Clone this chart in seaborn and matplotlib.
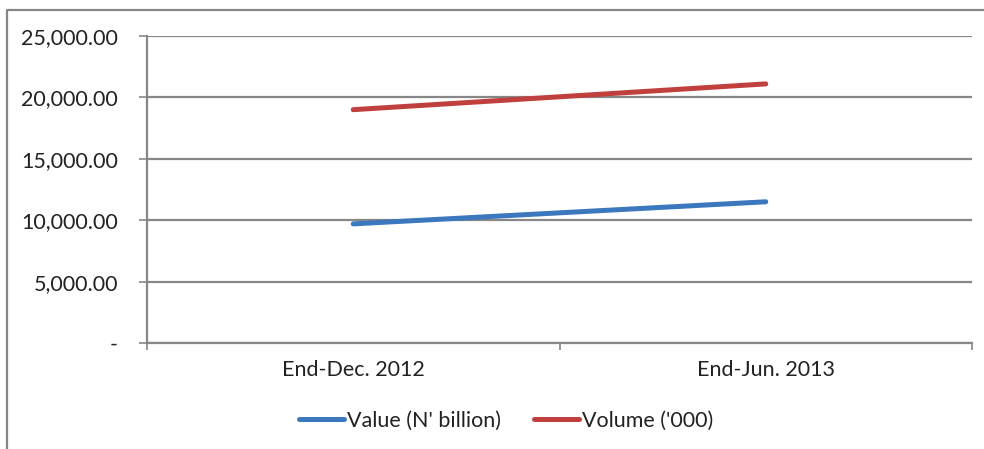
import numpy as np
import pandas as pd
import seaborn as sns
import matplotlib.pyplot as plt
from matplotlib.lines import Line2D
from matplotlib.ticker import FuncFormatter, FixedLocator

# data
periods = ["End-Dec. 2012", "End-Jun. 2013"]
value_bn = [9700, 11500]
volume_k = [19000, 21100]
series_names = ["Value (N' billion)", "Volume ('000)"]
colors = ["#3B78BD", "#C0403D"]

df = pd.DataFrame({
    'period': periods * 2,
    'x': [0, 1] * 2,
    'amount': value_bn + volume_k,
    'series': [series_names[0]] * 2 + [series_names[1]] * 2,
})

sns.set_theme(style="white")
plt.rcParams['font.family'] = ['Lato', 'DejaVu Sans']

GRID = "#878787"
FS = 15.5

fig = plt.figure(figsize=(9.84, 4.49), dpi=100)
ax = fig.add_axes([147 / 984, 1 - 343 / 449, (972 - 147) / 984, (343 - 36) / 449])

sns.lineplot(data=df, x='x', y='amount', hue='series', palette=colors,
             linewidth=3.6, solid_capstyle='round', ax=ax, legend=False)

ax.set_xlim(-0.5, 1.5)
ax.set_ylim(0, 25000)
ax.set_yticks(np.arange(0, 25001, 5000))
ax.yaxis.set_major_formatter(FuncFormatter(lambda v, p: '-' if v == 0 else f'{v:,.2f}'))
ax.set_xticks([0, 1])
ax.set_xticklabels(periods)
ax.xaxis.set_minor_locator(FixedLocator([-0.5, 0.5, 1.5]))
ax.set_xlabel('')
ax.set_ylabel('')

ax.grid(axis='y', color=GRID, linewidth=1.6)
ax.set_axisbelow(True)
for s in ['top', 'right']:
    ax.spines[s].set_visible(False)
for s in ['left', 'bottom']:
    ax.spines[s].set_color(GRID)
    ax.spines[s].set_linewidth(1.6)

ax.tick_params(axis='y', which='major', direction='out', length=5.8, width=1.2,
               color=GRID, pad=15, labelsize=FS, labelcolor='#222222', left=True)
ax.tick_params(axis='x', which='major', length=0, pad=12, labelsize=FS, labelcolor='#222222')
ax.tick_params(axis='x', which='minor', direction='out', length=5, width=1.2,
               color=GRID, bottom=True)

handles = [Line2D([0], [0], color=c, linewidth=3.6, solid_capstyle='round') for c in colors]
fig.legend(handles, series_names, loc='center', bbox_to_anchor=(506 / 984, 1 - 421 / 449),
           ncol=2, frameon=False, fontsize=FS, handlelength=2.1, handletextpad=0.15,
           columnspacing=1.5, labelcolor='#222222')

# outer chart frame (partly cropped)
fig.add_artist(Line2D([7 / 984, 7 / 984, 1.0], [0.0, 1 - 10 / 449, 1 - 10 / 449],
                      transform=fig.transFigure, color=GRID, linewidth=1.6))

fig.savefig('out.png', dpi=100)
